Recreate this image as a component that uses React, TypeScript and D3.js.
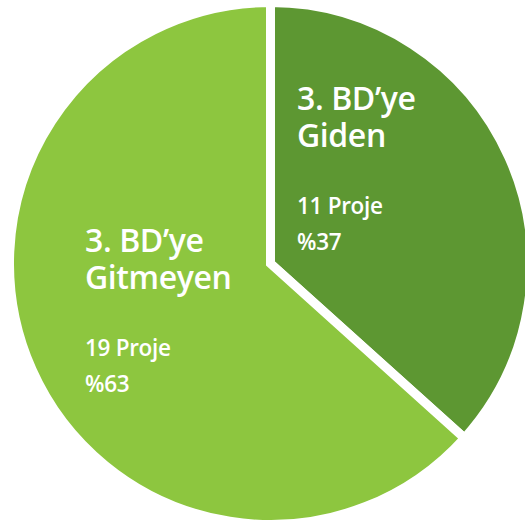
import React from "react";
import * as d3 from "d3";

const categories = ["3. BD’ye Giden", "3. BD’ye Gitmeyen"];
const titleLines = [["3. BD’ye", "Giden"], ["3. BD’ye", "Gitmeyen"]];
const projectCounts = [11, 19];
const percentLabels = ["%37", "%63"];

const colors = ["#5d9732", "#8dc63f"];
const labelAnchors = [
  { x: 297, y: 110 },
  { x: 85, y: 252 },
];

const W = 525;
const H = 522;
const cx = 270.5;
const cy = 263.5;
const R = 256.5;
const GAP = 9;

export default function App() {
  const data = categories.map((c, i) => ({ name: c, value: projectCounts[i], i }));
  const pie = d3
    .pie<any>()
    .value((d) => d.value)
    .sort(null)
    .startAngle(0)
    .endAngle(2 * Math.PI);
  const arcs = pie(data);
  const arc = d3.arc<any>().innerRadius(0).outerRadius(R + GAP / 2);

  return (
    <svg
      width={W}
      height={H}
      style={{ position: "absolute", left: 0, top: 0, background: "#fff" }}
      fontFamily="'Open Sans', 'Noto Sans', sans-serif"
    >
      <g transform={`translate(${cx},${cy})`}>
        {arcs.map((a, i) => (
          <path
            key={i}
            d={arc(a) as string}
            fill={colors[i]}
            stroke="#fff"
            strokeWidth={GAP}
            strokeLinejoin="miter"
            strokeMiterlimit={10}
          />
        ))}
      </g>
      {arcs.map((a, i) => {
        const p = labelAnchors[i];
        return (
          <g key={i} fill="#fff" fontWeight={600}>
            <text x={p.x} y={p.y} fontSize={32} letterSpacing={-0.4}>
              {titleLines[i][0]}
            </text>
            <text x={p.x} y={p.y + 37} fontSize={32} letterSpacing={-0.4}>
              {titleLines[i][1]}
            </text>
            <text x={p.x} y={p.y + 104} fontSize={22.5} letterSpacing={-0.3}>
              {`${projectCounts[i]} Proje`}
            </text>
            <text x={p.x} y={p.y + 140} fontSize={22.5} letterSpacing={-0.3}>
              {percentLabels[i]}
            </text>
          </g>
        );
      })}
    </svg>
  );
}
